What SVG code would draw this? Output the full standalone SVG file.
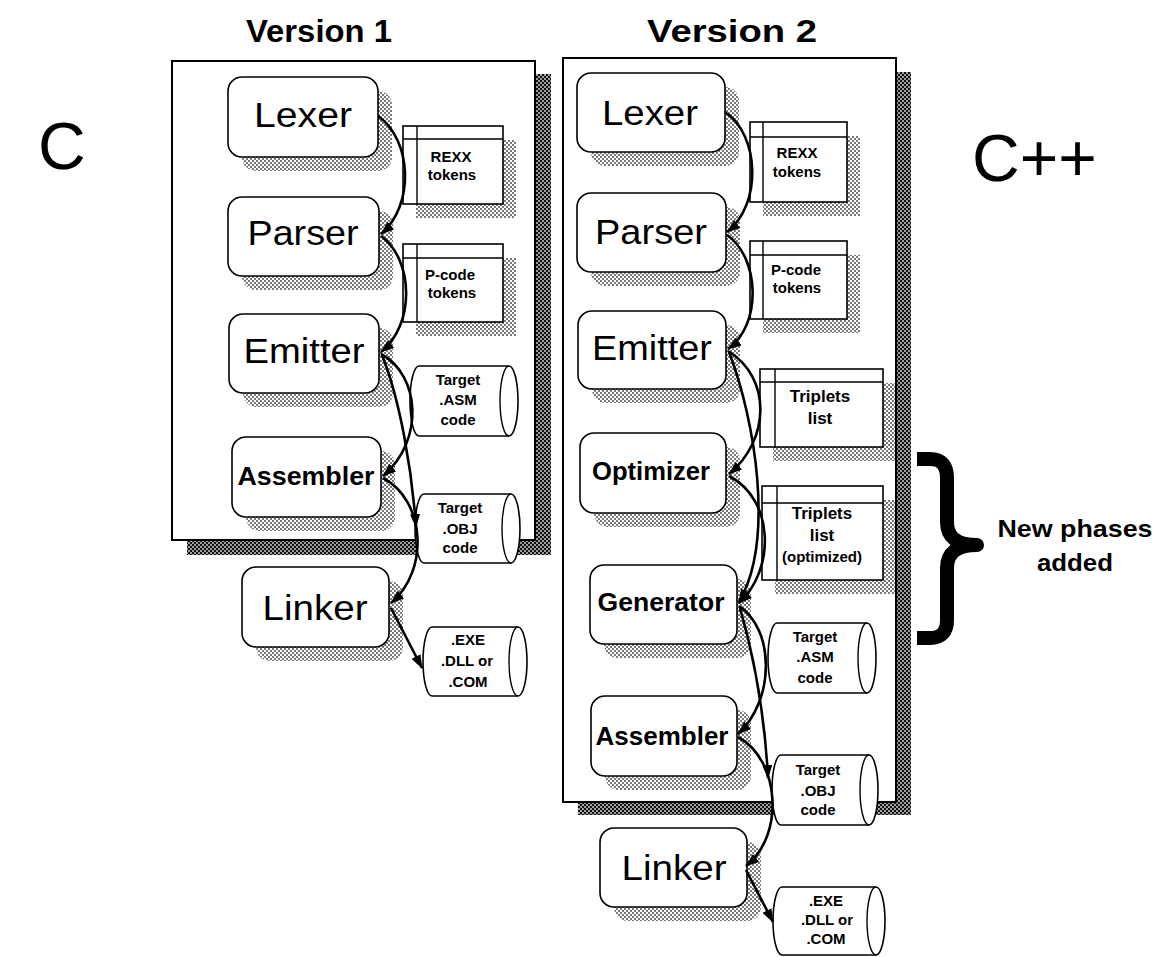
<svg xmlns="http://www.w3.org/2000/svg" width="1167" height="957" viewBox="0 0 1167 957">
<defs>
<pattern id="lt" width="4" height="4" patternUnits="userSpaceOnUse"><rect width="4" height="4" fill="#fff"/><rect width="2" height="2" fill="#7a7a7a"/><rect x="2" y="2" width="2" height="2" fill="#7a7a7a"/></pattern>
<pattern id="dk" width="4" height="4" patternUnits="userSpaceOnUse"><rect width="4" height="4" fill="#a0a0a0"/><rect width="2" height="2" fill="#111"/><rect x="2" y="2" width="2" height="2" fill="#111"/></pattern>
<marker id="ah" markerWidth="14" markerHeight="10" refX="13" refY="5" orient="auto" markerUnits="userSpaceOnUse"><path d="M0,0 L14,5 L0,10 Z" fill="#000"/></marker>
</defs>
<style>
text{font-family:"Liberation Sans",Arial,sans-serif;fill:#000;text-anchor:middle}
.big{font-size:35px}
.bold{font-size:25px;font-weight:bold}
.sm{font-size:15px;font-weight:bold}
.md{font-size:17px;font-weight:bold}
.title{font-size:31px;font-weight:bold}
.lang{font-size:66px;text-anchor:start}
.frame{fill:#fff;stroke:#000;stroke-width:2}
.fsh{fill:url(#dk)}
.sh{fill:url(#lt)}
.box{fill:#fff;stroke:#000;stroke-width:1.6}
.ln{fill:none;stroke:#000;stroke-width:1.4}
.cn{fill:none;stroke:#000;stroke-width:2.6;marker-end:url(#ah)}
</style>
<rect width="1167" height="957" fill="#fff"/>

<g id="titles">
<text class="title" x="319" y="42" textLength="146" lengthAdjust="spacingAndGlyphs">Version 1</text>
<text class="title" x="732" y="42" textLength="170" lengthAdjust="spacingAndGlyphs">Version 2</text>
<text class="lang" x="38" y="169">C</text>
<text class="lang" x="972" y="181">C++</text>
</g>

<g id="frame1">
<rect class="fsh" x="187" y="74" width="364" height="481"/>
<rect class="frame" x="172" y="61" width="363" height="479"/>
</g>
<g id="frame2">
<rect class="fsh" x="578" y="72" width="333" height="743"/>
<rect class="frame" x="563" y="58" width="333" height="744"/>
</g>

<!-- Version 1 nodes -->
<g id="v1-lexer">
<rect class="sh" x="242" y="91" width="150" height="80" rx="14"/>
<rect class="box" x="228" y="77" width="150" height="80" rx="14"/>
<text class="big" x="303" y="127" textLength="98" lengthAdjust="spacingAndGlyphs">Lexer</text>
</g>
<g id="v1-parser">
<rect class="sh" x="242" y="211" width="151" height="79" rx="14"/>
<rect class="box" x="228" y="197" width="151" height="79" rx="14"/>
<text class="big" x="303" y="245" textLength="111" lengthAdjust="spacingAndGlyphs">Parser</text>
</g>
<g id="v1-emitter">
<rect class="sh" x="243" y="328" width="150" height="79" rx="14"/>
<rect class="box" x="229" y="314" width="150" height="79" rx="14"/>
<text class="big" x="304" y="363" textLength="121" lengthAdjust="spacingAndGlyphs">Emitter</text>
</g>
<g id="v1-assembler">
<rect class="sh" x="246" y="451" width="149" height="80" rx="14"/>
<rect class="box" x="232" y="437" width="149" height="80" rx="14"/>
<text class="bold" x="306" y="485" textLength="137" lengthAdjust="spacingAndGlyphs">Assembler</text>
</g>
<g id="v1-linker">
<rect class="sh" x="256" y="581" width="147" height="80" rx="14"/>
<rect class="box" x="242" y="567" width="147" height="80" rx="14"/>
<text class="big" x="315" y="620" textLength="105" lengthAdjust="spacingAndGlyphs">Linker</text>
</g>
<g id="v1-rexx">
<rect class="sh" x="416" y="140" width="100" height="78"/>
<rect class="box" x="403" y="126" width="100" height="78"/>
<path class="ln" d="M403,139 H503 M417,126 V204"/>
<text class="sm" x="451" y="162">REXX</text>
<text class="sm" x="452" y="180">tokens</text>
</g>
<g id="v1-pcode">
<rect class="sh" x="416" y="258" width="100" height="78"/>
<rect class="box" x="403" y="244" width="100" height="78"/>
<path class="ln" d="M403,258 H503 M417,244 V322"/>
<text class="sm" x="450" y="280">P-code</text>
<text class="sm" x="452" y="298">tokens</text>
</g>
<g id="v1-asm">
<path class="box" d="M419,366 L509,366 A9,35 0 0 1 509,436 L419,436 A9,35 0 0 1 419,366 Z"/>
<path class="ln" d="M509,366 A9,35 0 0 0 509,436"/>
<text class="sm" x="458" y="385">Target</text>
<text class="sm" x="458" y="405">.ASM</text>
<text class="sm" x="458" y="425">code</text>
</g>
<g id="v1-obj">
<path class="box" d="M424,494 L511,494 A9,34.5 0 0 1 511,563 L424,563 A9,34.5 0 0 1 424,494 Z"/>
<path class="ln" d="M511,494 A9,34.5 0 0 0 511,563"/>
<text class="sm" x="460" y="513">Target</text>
<text class="sm" x="460" y="534">.OBJ</text>
<text class="sm" x="460" y="553">code</text>
</g>
<g id="v1-exe">
<path class="box" d="M432,627 L518,627 A9,34.5 0 0 1 518,696 L432,696 A9,34.5 0 0 1 432,627 Z"/>
<path class="ln" d="M518,627 A9,34.5 0 0 0 518,696"/>
<text class="sm" x="468" y="645">.EXE</text>
<text class="sm" x="467" y="666">.DLL or</text>
<text class="sm" x="468" y="687">.COM</text>
</g>

<!-- Version 2 nodes -->
<g id="v2-lexer">
<rect class="sh" x="591" y="87" width="148" height="79" rx="14"/>
<rect class="box" x="577" y="73" width="148" height="79" rx="14"/>
<text class="big" x="650" y="125" textLength="96" lengthAdjust="spacingAndGlyphs">Lexer</text>
</g>
<g id="v2-parser">
<rect class="sh" x="591" y="207" width="149" height="79" rx="14"/>
<rect class="box" x="577" y="193" width="149" height="79" rx="14"/>
<text class="big" x="651" y="244" textLength="112" lengthAdjust="spacingAndGlyphs">Parser</text>
</g>
<g id="v2-emitter">
<rect class="sh" x="592" y="325" width="148" height="78" rx="14"/>
<rect class="box" x="578" y="311" width="148" height="78" rx="14"/>
<text class="big" x="652" y="360" textLength="120" lengthAdjust="spacingAndGlyphs">Emitter</text>
</g>
<g id="v2-optimizer">
<rect class="sh" x="594" y="447" width="146" height="80" rx="14"/>
<rect class="box" x="580" y="433" width="146" height="80" rx="14"/>
<text class="bold" x="651" y="480" textLength="118" lengthAdjust="spacingAndGlyphs">Optimizer</text>
</g>
<g id="v2-generator">
<rect class="sh" x="604" y="579" width="147" height="79" rx="14"/>
<rect class="box" x="590" y="565" width="147" height="79" rx="14"/>
<text class="bold" x="661" y="611" textLength="127" lengthAdjust="spacingAndGlyphs">Generator</text>
</g>
<g id="v2-assembler">
<rect class="sh" x="605" y="710" width="146" height="80" rx="14"/>
<rect class="box" x="591" y="696" width="146" height="80" rx="14"/>
<text class="bold" x="662" y="745" textLength="133" lengthAdjust="spacingAndGlyphs">Assembler</text>
</g>
<g id="v2-linker">
<rect class="sh" x="614" y="842" width="147" height="79" rx="14"/>
<rect class="box" x="600" y="828" width="147" height="79" rx="14"/>
<text class="big" x="674" y="880" textLength="105" lengthAdjust="spacingAndGlyphs">Linker</text>
</g>
<g id="v2-rexx">
<rect class="sh" x="763" y="136" width="97" height="80"/>
<rect class="box" x="750" y="122" width="97" height="80"/>
<path class="ln" d="M750,137 H847 M763,122 V202"/>
<text class="sm" x="797" y="158">REXX</text>
<text class="sm" x="797" y="177">tokens</text>
</g>
<g id="v2-pcode">
<rect class="sh" x="763" y="255" width="97" height="78"/>
<rect class="box" x="750" y="241" width="97" height="78"/>
<path class="ln" d="M750,255 H847 M763,241 V319"/>
<text class="sm" x="796" y="275">P-code</text>
<text class="sm" x="797" y="293">tokens</text>
</g>
<g id="v2-triplets">
<rect class="sh" x="773" y="383" width="122" height="78"/>
<rect class="box" x="760" y="369" width="123" height="78"/>
<path class="ln" d="M760,382 H883 M775,369 V447"/>
<text class="md" x="820" y="402">Triplets</text>
<text class="md" x="820" y="424">list</text>
</g>
<g id="v2-triplets-opt">
<rect class="sh" x="775" y="500" width="120" height="94"/>
<rect class="box" x="762" y="486" width="121" height="94"/>
<path class="ln" d="M762,503 H883 M777,486 V580"/>
<text class="md" x="822" y="519">Triplets</text>
<text class="md" x="822" y="541">list</text>
<text class="sm" x="822" y="562">(optimized)</text>
</g>
<g id="v2-asm">
<path class="box" d="M777,623 L867,623 A9,35 0 0 1 867,693 L777,693 A9,35 0 0 1 777,623 Z"/>
<path class="ln" d="M867,623 A9,35 0 0 0 867,693"/>
<text class="sm" x="815" y="642">Target</text>
<text class="sm" x="815" y="662">.ASM</text>
<text class="sm" x="815" y="683">code</text>
</g>
<g id="v2-obj">
<path class="box" d="M781,755 L869,755 A9,35 0 0 1 869,825 L781,825 A9,35 0 0 1 781,755 Z"/>
<path class="ln" d="M869,755 A9,35 0 0 0 869,825"/>
<text class="sm" x="818" y="775">Target</text>
<text class="sm" x="818" y="796">.OBJ</text>
<text class="sm" x="818" y="815">code</text>
</g>
<g id="v2-exe">
<path class="box" d="M782,887 L876,887 A9,34 0 0 1 876,955 L782,955 A9,34 0 0 1 782,887 Z"/>
<path class="ln" d="M876,887 A9,34 0 0 0 876,955"/>
<text class="sm" x="826" y="906">.EXE</text>
<text class="sm" x="827" y="925">.DLL or</text>
<text class="sm" x="826" y="944">.COM</text>
</g>

<g id="connectors">
<path class="cn" d="M378,116 C412,140 415,205 381,234"/>
<path class="cn" d="M381,236 C414,260 415,325 381,352"/>
<path class="cn" d="M381,354 C420,375 425,440 383,476"/>
<path class="cn" d="M382,355 C400,400 412,470 416,527"/>
<path class="cn" d="M383,478 C425,500 430,570 391,603"/>
<path class="cn" d="M391,608 L422,668"/>

<path class="cn" d="M725,112 C760,135 762,205 727,232"/>
<path class="cn" d="M727,235 C760,258 762,325 728,349"/>
<path class="cn" d="M728,351 C772,378 770,440 729,474"/>
<path class="cn" d="M729,352 C755,420 775,540 739,602"/>
<path class="cn" d="M729,476 C775,500 775,570 739,603"/>
<path class="cn" d="M739,606 C775,630 775,700 738,734"/>
<path class="cn" d="M740,608 C755,660 765,720 768,778"/>
<path class="cn" d="M738,737 C780,760 785,835 746,866"/>
<path class="cn" d="M746,870 L773,922"/>
</g>

<g id="brace">
<path d="M917,459 L930,459 Q947,459 947,478 L947,522 Q947,545 977,545 Q947,545 947,568 L947,620 Q947,638 930,638 L917,638" fill="none" stroke="#000" stroke-width="14" stroke-linejoin="round"/>
<text class="bold" x="1075" y="537" style="font-size:24px" textLength="155" lengthAdjust="spacingAndGlyphs">New phases</text>
<text class="bold" x="1075" y="571" style="font-size:24px" textLength="76" lengthAdjust="spacingAndGlyphs">added</text>
</g>
</svg>
